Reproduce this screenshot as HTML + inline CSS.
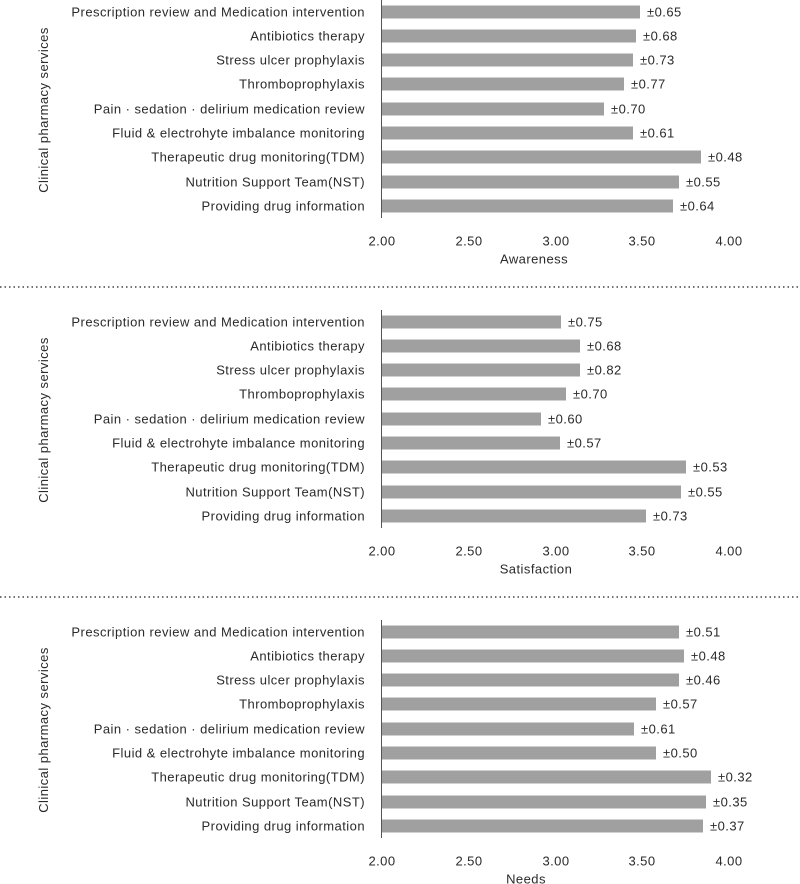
<!DOCTYPE html>
<html><head><meta charset="utf-8"><style>
html,body{margin:0;padding:0;background:#fff;}
svg{display:block;font-family:"Liberation Sans",sans-serif;}
text{fill:#2a2a2a;font-size:13px;letter-spacing:0.45px;}
.l{text-anchor:end;}
.t{text-anchor:middle;}
</style></head><body>
<svg width="800" height="884" viewBox="0 0 800 884">
<defs>
<g id="labels">
<text class="l" x="365" y="16.5">Prescription review and Medication intervention</text>
<text class="l" x="365" y="40.5">Antibiotics therapy</text>
<text class="l" x="365" y="64.5">Stress ulcer prophylaxis</text>
<text class="l" x="365" y="88.5">Thromboprophylaxis</text>
<text class="l" x="365" y="113.5">Pain · sedation · delirium medication review</text>
<text class="l" x="365" y="137.5">Fluid &amp; electrohyte imbalance monitoring</text>
<text class="l" x="365" y="161.5">Therapeutic drug monitoring(TDM)</text>
<text class="l" x="365" y="186.5">Nutrition Support Team(NST)</text>
<text class="l" x="365" y="210.5">Providing drug information</text>
<line x1="381.5" y1="0" x2="381.5" y2="218" stroke="#555" stroke-width="1"/>
<text class="t" x="382" y="245.5">2.00</text>
<text class="t" x="469" y="245.5">2.50</text>
<text class="t" x="556" y="245.5">3.00</text>
<text class="t" x="642" y="245.5">3.50</text>
<text class="t" x="729" y="245.5">4.00</text>
<text transform="translate(48,110) rotate(-90)" class="t">Clinical pharmacy services</text>
</g>
</defs>

<g>
<use href="#labels"/>
<g fill="#a0a0a0">
<rect x="382" y="5.5" width="258" height="13"/>
<rect x="382" y="29.5" width="254" height="13"/>
<rect x="382" y="53.5" width="251" height="13"/>
<rect x="382" y="77.5" width="242" height="13"/>
<rect x="382" y="102.5" width="222" height="13"/>
<rect x="382" y="126.5" width="251" height="13"/>
<rect x="382" y="150.5" width="319" height="13"/>
<rect x="382" y="175.5" width="297" height="13"/>
<rect x="382" y="199.5" width="291" height="13"/>
</g>
<text x="647" y="16.5">±0.65</text>
<text x="643" y="40.5">±0.68</text>
<text x="640" y="64.5">±0.73</text>
<text x="631" y="88.5">±0.77</text>
<text x="611" y="113.5">±0.70</text>
<text x="640" y="137.5">±0.61</text>
<text x="708" y="161.5">±0.48</text>
<text x="686" y="186.5">±0.55</text>
<text x="680" y="210.5">±0.64</text>
<text class="t" x="534" y="263.5">Awareness</text>
</g>
<line x1="0" y1="287" x2="800" y2="287" stroke="#444" stroke-width="1.5" stroke-dasharray="1.5 3"/>

<g transform="translate(0,310)">
<use href="#labels"/>
<g fill="#a0a0a0">
<rect x="382" y="5.5" width="179" height="13"/>
<rect x="382" y="29.5" width="198" height="13"/>
<rect x="382" y="53.5" width="198" height="13"/>
<rect x="382" y="77.5" width="184" height="13"/>
<rect x="382" y="102.5" width="159" height="13"/>
<rect x="382" y="126.5" width="178" height="13"/>
<rect x="382" y="150.5" width="304" height="13"/>
<rect x="382" y="175.5" width="299" height="13"/>
<rect x="382" y="199.5" width="264" height="13"/>
</g>
<text x="568" y="16.5">±0.75</text>
<text x="587" y="40.5">±0.68</text>
<text x="587" y="64.5">±0.82</text>
<text x="573" y="88.5">±0.70</text>
<text x="548" y="113.5">±0.60</text>
<text x="567" y="137.5">±0.57</text>
<text x="693" y="161.5">±0.53</text>
<text x="688" y="186.5">±0.55</text>
<text x="653" y="210.5">±0.73</text>
<text class="t" x="536" y="263.5">Satisfaction</text>
</g>
<line x1="0" y1="597" x2="800" y2="597" stroke="#444" stroke-width="1.5" stroke-dasharray="1.5 3"/>

<g transform="translate(0,620)">
<use href="#labels"/>
<g fill="#a0a0a0">
<rect x="382" y="5.5" width="297" height="13"/>
<rect x="382" y="29.5" width="302" height="13"/>
<rect x="382" y="53.5" width="297" height="13"/>
<rect x="382" y="77.5" width="274" height="13"/>
<rect x="382" y="102.5" width="252" height="13"/>
<rect x="382" y="126.5" width="274" height="13"/>
<rect x="382" y="150.5" width="329" height="13"/>
<rect x="382" y="175.5" width="324" height="13"/>
<rect x="382" y="199.5" width="321" height="13"/>
</g>
<text x="686" y="16.5">±0.51</text>
<text x="691" y="40.5">±0.48</text>
<text x="686" y="64.5">±0.46</text>
<text x="663" y="88.5">±0.57</text>
<text x="641" y="113.5">±0.61</text>
<text x="663" y="137.5">±0.50</text>
<text x="718" y="161.5">±0.32</text>
<text x="713" y="186.5">±0.35</text>
<text x="710" y="210.5">±0.37</text>
<text class="t" x="526" y="263.5">Needs</text>
</g>
</svg>
</body></html>
